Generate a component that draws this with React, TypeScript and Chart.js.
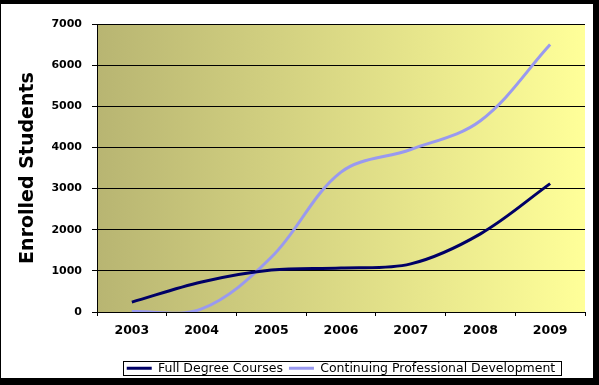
import React, { useEffect, useRef } from "react";
import { Chart, registerables } from "chart.js";

Chart.register(...registerables);

const years = ["2003", "2004", "2005", "2006", "2007", "2008", "2009"];
const fullDegree = [240, 730, 1020, 1070, 1170, 1900, 3120];
const professionalDev = [10, 75, 1330, 3400, 3950, 4650, 6500];
const seriesNames = ["Full Degree Courses", "Continuing Professional Development"];
const yTitle = "Enrolled Students";
const yMin = 0;
const yMax = 7000;
const yStep = 1000;

const plotBackground = {
  id: "plotBackground",
  beforeDraw(chart: any) {
    const { ctx, chartArea: a } = chart;
    if (!a) return;
    const g = ctx.createLinearGradient(a.left, 0, a.right, 0);
    g.addColorStop(0, "#b8b572");
    g.addColorStop(1, "#ffff99");
    ctx.save();
    ctx.fillStyle = g;
    ctx.fillRect(a.left, a.top, a.right - a.left, a.bottom - a.top);
    ctx.restore();
  },
};

const legendBorder = {
  id: "legendBorder",
  afterDraw(chart: any) {
    const lg = chart.legend;
    if (!lg || !lg.legendHitBoxes || !lg.legendHitBoxes.length) return;
    const hb = lg.legendHitBoxes;
    const l = Math.min(...hb.map((h: any) => h.left)) - 4;
    const r = Math.max(...hb.map((h: any) => h.left + h.width)) + 5;
    const cy = hb[0].top + hb[0].height / 2;
    const top = Math.round(cy - 7) + 0.5;
    const ctx = chart.ctx;
    ctx.save();
    ctx.strokeStyle = "#000";
    ctx.lineWidth = 1;
    ctx.strokeRect(Math.round(l) + 0.5, top, Math.round(r - l), 14);
    ctx.restore();
  },
};

export default function App() {
  const ref = useRef<HTMLCanvasElement | null>(null);

  useEffect(() => {
    if (!ref.current) return;
    const chart = new Chart(ref.current, {
      type: "line",
      data: {
        labels: years,
        datasets: [
          {
            label: seriesNames[0],
            data: fullDegree,
            borderColor: "#000066",
            backgroundColor: "#000066",
            borderWidth: 3,
            pointRadius: 0,
            tension: 0.35,
            capBezierPoints: false,
            clip: 0,
            fill: false,
          },
          {
            label: seriesNames[1],
            data: professionalDev,
            borderColor: "#9999f0",
            backgroundColor: "#9999f0",
            borderWidth: 3,
            pointRadius: 0,
            tension: 0.35,
            capBezierPoints: false,
            clip: 0,
            fill: false,
          },
        ],
      },
      options: {
        responsive: false,
        animation: false,
        devicePixelRatio: 1,
        layout: { padding: { left: 10, top: 20, right: 8, bottom: 1.5 } },
        plugins: {
          tooltip: { enabled: false },
          legend: {
            position: "bottom",
            fullSize: false,
            labels: {
              usePointStyle: true,
              pointStyle: "line",
              pointStyleWidth: 25,
              padding: 6,
              color: "#000",
              font: { family: "DejaVu Sans", size: 12.5 },
            },
          },
        },
        scales: {
          x: {
            offset: true,
            grid: {
              offset: true,
              drawOnChartArea: false,
              drawTicks: true,
              tickLength: 4,
              color: "#000",
            },
            border: { display: true, color: "#000", width: 1 },
            ticks: {
              color: "#000",
              padding: 7,
              font: { family: "DejaVu Sans", size: 12.5, weight: "bold" },
            },
            afterFit: (s: any) => {
              s.height = 44;
            },
          },
          y: {
            min: yMin,
            max: yMax,
            grid: { color: "#000", tickLength: 5, lineWidth: 1 },
            border: { display: true, color: "#000", width: 1 },
            ticks: {
              stepSize: yStep,
              color: "#000",
              padding: 10,
              font: { family: "DejaVu Sans", size: 11, weight: "bold" },
              callback: (v: any) => String(v),
            },
            title: {
              display: true,
              text: yTitle,
              color: "#000",
              padding: { top: 6, bottom: 0 },
              font: { family: "DejaVu Sans", size: 19, weight: "bold" },
            },
            afterFit: (s: any) => {
              s.width = 86;
            },
          },
        },
      },
      plugins: [plotBackground, legendBorder],
    } as any);
    return () => chart.destroy();
  }, []);

  return (
    <div
      style={{
        position: "fixed",
        left: 0,
        top: 0,
        width: 599,
        height: 385,
        background: "#000",
      }}
    >
      <div
        style={{
          position: "absolute",
          left: 1,
          top: 4,
          width: 592,
          height: 374,
          background: "#fff",
          overflow: "hidden",
        }}
      >
        <canvas ref={ref} width={592} height={382} style={{ display: "block" }} />
      </div>
    </div>
  );
}
